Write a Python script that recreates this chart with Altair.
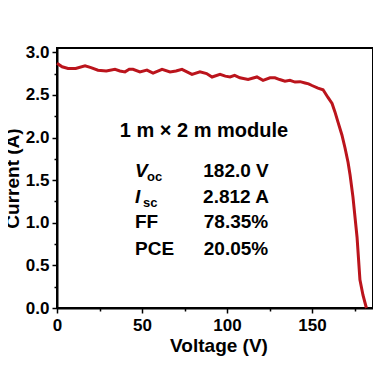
import altair as alt
import pandas as pd

# J-V curve
voltage = [0.0, 3.0, 6.5, 11.0, 16.5, 20.0, 24.1, 29.0, 34.1, 37.0, 40.0, 42.5, 44.7,
           48.8, 52.9, 56.5, 61.8, 66.5, 70.0, 73.5, 79.4, 84.1, 88.0, 91.2, 95.9,
           99.0, 101.8, 104.5, 107.6, 112.4, 117.6, 121.2, 125.3, 128.2, 131.0,
           134.1, 137.0, 140.0, 143.0, 145.9, 148.0, 150.0, 153.5, 156.5, 159.4,
           161.8, 163.5, 165.3, 167.6, 169.4, 171.2, 172.4, 174.1, 176.5, 178.2,
           180.0, 182.0]
current = [2.87, 2.83, 2.81, 2.81, 2.84, 2.82, 2.79, 2.78, 2.80, 2.78, 2.77, 2.80, 2.80,
           2.77, 2.79, 2.755, 2.80, 2.77, 2.78, 2.80, 2.74, 2.77, 2.75, 2.71, 2.74,
           2.72, 2.71, 2.73, 2.70, 2.68, 2.71, 2.67, 2.70, 2.70, 2.68,
           2.66, 2.67, 2.65, 2.655, 2.64, 2.63, 2.61, 2.58, 2.56, 2.47,
           2.40, 2.30, 2.18, 2.03, 1.88, 1.71, 1.56, 1.30, 0.83, 0.33,
           0.15, 0.0]

x_ticks = [0, 50, 100, 150]
y_ticks = [0.0, 0.5, 1.0, 1.5, 2.0, 2.5, 3.0]
x_minor = [25, 75, 125, 175]
y_minor = [0.25, 0.75, 1.25, 1.75, 2.25, 2.75]

heading = "1 m × 2 m module"
param_main = ["V", "I", "FF", "PCE"]
param_sub = ["oc", "sc", "", ""]
param_italic = [True, True, False, False]
param_values = ["182.0 V", "2.812 A", "78.35%", "20.05%"]

FONT = "Liberation Sans"
W, H = 316, 260
XR = 323  # pixel length of the 0..190 V range

df = pd.DataFrame({"V": voltage, "I": current})
xs = alt.Scale(domain=[0, 190], range=[0, XR], nice=False, zero=False)
ys = alt.Scale(domain=[0, 3.05], nice=False)

line = alt.Chart(df).mark_line(color="#bb141c", strokeWidth=3).encode(
    x=alt.X("V:Q", scale=xs, axis=alt.Axis(values=x_ticks, title="Voltage (V)",
                                           labelPadding=4, titlePadding=3,
                                           labelFlush=False)),
    y=alt.Y("I:Q", scale=ys, axis=alt.Axis(values=y_ticks, format=".1f",
                                           title="Current (A)", labelPadding=3,
                                           labelFlush=False, titleX=-35, titleY=H / 2)),
)

minor = alt.Chart(df).mark_line(opacity=0).encode(
    x=alt.X("V:Q", scale=xs, axis=alt.Axis(values=x_minor, labels=False, domain=False,
                                           tickSize=3, title="", orient="bottom")),
    y=alt.Y("I:Q", scale=ys, axis=alt.Axis(values=y_minor, labels=False, domain=False,
                                           tickSize=3, title="", orient="left")),
)

one = pd.DataFrame({"a": [0]})
layers = [line, minor]
layers.append(
    alt.Chart(one).mark_text(text=heading, align="center", baseline="alphabetic",
                             font=FONT, fontSize=20, fontWeight="bold", color="black")
    .encode(x=alt.value(147), y=alt.value(89))
)
row_y = [129, 155, 180, 207]
for i in range(4):
    layers.append(
        alt.Chart(one).mark_text(text=param_main[i], align="left", baseline="alphabetic",
                                 font=FONT, fontSize=19, fontWeight="bold",
                                 fontStyle="italic" if param_italic[i] else "normal",
                                 color="black")
        .encode(x=alt.value(78), y=alt.value(row_y[i]))
    )
    if param_sub[i]:
        layers.append(
            alt.Chart(one).mark_text(text=param_sub[i], align="left", baseline="alphabetic",
                                     font=FONT, fontSize=13, fontWeight="bold", color="black")
            .encode(x=alt.value(90 if i == 0 else 86), y=alt.value(row_y[i] + 4))
        )
    layers.append(
        alt.Chart(one).mark_text(text=param_values[i], align="center", baseline="alphabetic",
                                 font=FONT, fontSize=19, fontWeight="bold", color="black")
        .encode(x=alt.value(179), y=alt.value(row_y[i]))
    )

chart = alt.layer(*layers).resolve_axis(x="independent", y="independent").properties(
    width=W, height=H,
    autosize=alt.AutoSizeParams(type="none"),
    padding={"left": 49, "top": 40, "right": 0, "bottom": 55},
).configure_view(stroke="black", strokeWidth=2).configure_axis(
    labelFont=FONT, titleFont=FONT, labelFontSize=17, titleFontSize=19,
    labelFontWeight="bold", titleFontWeight="bold", labelColor="black", titleColor="black",
    domainColor="black", domainWidth=2, tickColor="black", tickWidth=1.5, tickSize=5,
    grid=False,
)

chart.save("out.html", embed_options={"renderer": "svg", "actions": False})
